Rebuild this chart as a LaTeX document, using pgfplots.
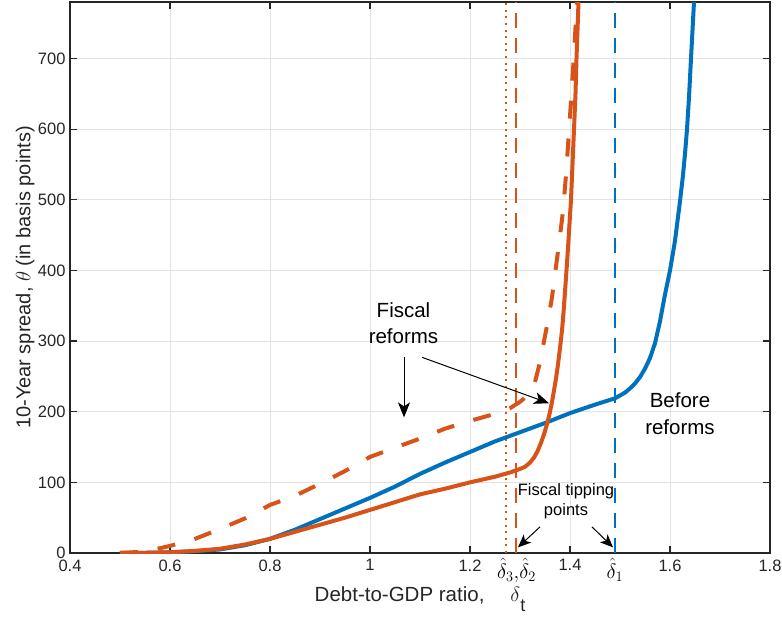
\documentclass[border=0pt]{standalone}
\usepackage{pgfplots}
\pgfplotsset{compat=1.18}
\usepackage{fontspec}
\setmainfont{Liberation Sans}
\usetikzlibrary{arrows.meta}
\definecolor{mblue}{HTML}{0072BD}
\definecolor{morange}{HTML}{D95319}
\definecolor{axc}{HTML}{262626}
\definecolor{gridc}{HTML}{E3E3E3}
\begin{document}
\begin{tikzpicture}
\path[use as bounding box] (-70pt,-63pt) rectangle (712pt,553pt);
\begin{axis}[
  scale only axis, width=700pt, height=551pt,
  xmin=0.4, xmax=1.8, ymin=0, ymax=780,
  xtick={0.4,0.6,0.8,1,1.2,1.4,1.6,1.8},
  ytick={0,100,200,300,400,500,600,700},
  grid=major, major grid style={gridc, line width=1pt},
  axis line style={axc, line width=1.2pt},
  tick style={axc, line width=1.2pt},
  major tick length=7pt,
  tick align=inside,
  tick label style={font=\fontsize{16.5}{19}\selectfont, text=axc},
  /pgf/number format/assume math mode=true,
  xticklabel style={yshift=-3pt},
  yticklabel style={xshift=-1pt},
  xlabel={Debt-to-GDP ratio,\hspace{26pt}$\delta$\raisebox{-10pt}{\fontsize{18}{18}\selectfont t}},
  ylabel={10-Year spread, $\theta$ (in basis points)},
  every axis x label/.style={at={(axis description cs:0.5,-0.0880)}, anchor=base, font=\fontsize{20.5}{22}\selectfont, text=axc},
  every axis y label/.style={at={(axis description cs:-0.064,0.5)}, anchor=center, rotate=90, font=\fontsize{20}{22}\selectfont, text=axc},
  extra x ticks={1.293,1.49},
  extra x tick labels={{$\hat{\delta}_3{,}\hat{\delta}_2$},{$\hat{\delta}_1$}},
  extra x tick style={grid=none, major tick length=0pt, xticklabel style={font=\fontsize{21}{24}\selectfont, text=black, yshift=1pt}},
]
% vertical reference lines
\addplot[morange, line width=2pt, dash pattern=on 2pt off 4.6pt] coordinates {(1.271,0) (1.271,780)};
\addplot[morange, line width=1.7pt, dash pattern=on 15pt off 10pt] coordinates {(1.292,0) (1.292,780)};
\addplot[mblue, line width=1.7pt, dash pattern=on 15pt off 10pt] coordinates {(1.49,0) (1.49,780)};
% before reforms
\addplot[mblue, line width=4pt, line join=round] coordinates {
(0.50,0) (0.55,0.3) (0.60,1) (0.65,2.5) (0.70,5) (0.75,11) (0.80,20) (0.85,33) (0.90,48)
(0.95,63) (1.00,78) (1.05,94) (1.10,112) (1.15,128) (1.20,143) (1.25,158) (1.30,171)
(1.35,184) (1.40,198) (1.45,210) (1.49,219) (1.50,223) (1.51,227) (1.52,233) (1.53,240)
(1.54,249) (1.55,261) (1.56,276) (1.57,297) (1.58,328) (1.59,366) (1.60,400) (1.61,442)
(1.62,498) (1.626,535) (1.63,565) (1.634,600) (1.638,645) (1.642,700) (1.645,740) (1.648,780)};
% fiscal reforms solid
\addplot[morange, line width=4pt, line join=round] coordinates {
(0.50,0) (0.55,0.3) (0.60,1) (0.65,3) (0.70,6) (0.75,12) (0.80,20) (0.85,30) (0.90,40)
(0.95,50) (1.00,61) (1.05,72) (1.10,83) (1.15,91) (1.20,100) (1.25,108) (1.28,114)
(1.30,119) (1.31,122) (1.32,128) (1.328,135) (1.335,144) (1.342,156) (1.348,168)
(1.355,185) (1.36,200) (1.364,214) (1.368,230) (1.372,247) (1.376,267) (1.38,290)
(1.384,315) (1.387,340) (1.39,370) (1.394,410) (1.398,455) (1.402,500) (1.405,550)
(1.408,600) (1.411,650) (1.413,700) (1.415,740) (1.417,780)};
% fiscal reforms dashed
\addplot[morange, line width=4pt, dash pattern=on 18pt off 20pt] coordinates {
(0.50,0) (0.55,2) (0.60,10) (0.65,20) (0.70,34) (0.75,49) (0.80,68) (0.85,81) (0.90,98)
(0.95,116) (1.00,136) (1.05,149) (1.10,162) (1.15,176) (1.20,187) (1.25,197) (1.28,205)
(1.30,214) (1.32,226) (1.33,242) (1.34,270) (1.348,300) (1.356,329) (1.364,362)
(1.37,395) (1.376,427) (1.381,455) (1.386,484) (1.392,535) (1.397,587) (1.402,639)
(1.407,695) (1.412,756) (1.414,780)};
% annotations
\node[align=center, font=\fontsize{20.5}{26}\selectfont, text=black] at (axis cs:1.067,325) {Fiscal\\reforms};
\draw[-{Stealth[length=15pt,width=12pt,inset=4pt]}, line width=1pt] (axis cs:1.068,277) -- (axis cs:1.068,192);
\draw[-{Stealth[length=15pt,width=12pt,inset=4pt]}, line width=1pt] (axis cs:1.104,277) -- (axis cs:1.358,212);
\node[align=center, font=\fontsize{20.5}{27}\selectfont, text=black] at (axis cs:1.62,197) {Before\\reforms};
\node[align=center, font=\fontsize{16.5}{20}\selectfont, text=black] at (axis cs:1.392,73) {Fiscal tipping\\points};
\draw[-{Stealth[length=13pt,width=11pt,inset=3.5pt]}, line width=1pt] (axis cs:1.34,37) -- (axis cs:1.296,8);
\draw[-{Stealth[length=13pt,width=11pt,inset=3.5pt]}, line width=1pt] (axis cs:1.444,37) -- (axis cs:1.486,8);
\end{axis}
\end{tikzpicture}
\end{document}
